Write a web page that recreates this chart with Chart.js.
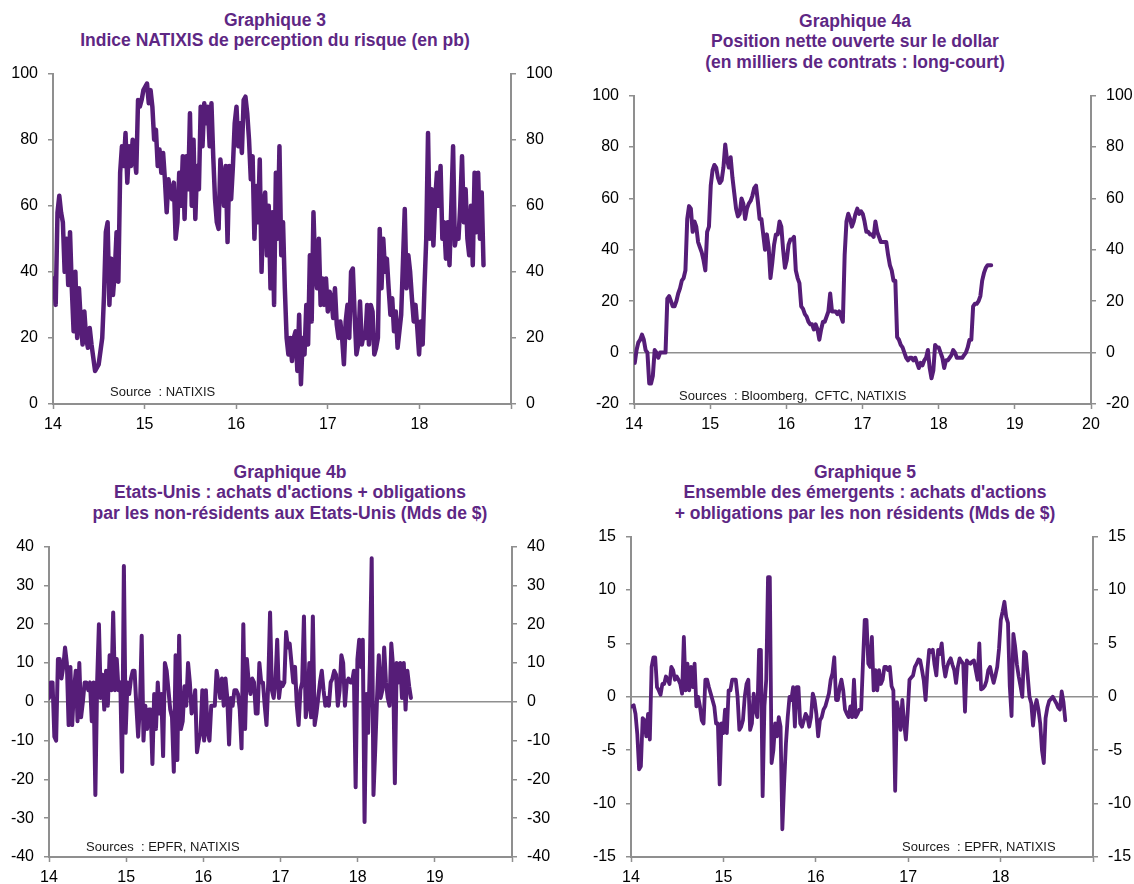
<!DOCTYPE html>
<html>
<head>
<meta charset="utf-8">
<script src="https://cdn.jsdelivr.net/npm/chart.js@4.4.1/dist/chart.umd.min.js"></script>
<style>
  body { margin: 0; background: #fff; width: 1134px; height: 884px; position: relative; overflow: hidden;
         font-family: "Liberation Sans", Arial, sans-serif; }
  canvas { position: absolute; }
  .title { position: absolute; width: 600px; text-align: center; font-weight: bold; font-size: 17.5px;
           line-height: 20.3px; color: #5e2784; white-space: nowrap; }
  .src { position: absolute; font-size: 13px; line-height: 13px; color: #1a1a1a; white-space: pre; }
</style>
</head>
<body>

<div class="title" style="left:-25px;top:10px">Graphique 3<br>Indice NATIXIS de perception du risque (en pb)</div>
<div class="title" style="left:555px;top:11px">Graphique 4a<br>Position nette ouverte sur le dollar<br>(en milliers de contrats : long-court)</div>
<div class="title" style="left:-10px;top:462px">Graphique 4b<br>Etats-Unis : achats d'actions + obligations<br>par les non-résidents aux Etats-Unis (Mds de $)</div>
<div class="title" style="left:565px;top:462px">Graphique 5<br>Ensemble des émergents : achats d'actions<br>+ obligations par les non résidents (Mds de $)</div>

<canvas id="c1" width="567" height="386" style="left:0;top:54px"></canvas>
<canvas id="c2" width="567" height="364" style="left:567px;top:76px"></canvas>
<canvas id="c3" width="567" height="357" style="left:0;top:527px"></canvas>
<canvas id="c4" width="567" height="367" style="left:567px;top:517px"></canvas>

<div class="src" style="left:110px;top:385px">Source  : NATIXIS</div>
<div class="src" style="left:679px;top:389px">Sources  : Bloomberg,  CFTC, NATIXIS</div>
<div class="src" style="left:86px;top:840px">Sources  : EPFR, NATIXIS</div>
<div class="src" style="left:902px;top:840px">Sources  : EPFR, NATIXIS</div>

<script>
// ---- data (weekly, years as 14 = 2014) ----
const riskFirst = 14.01, riskLast = 18.70;
const riskValues = [38,30,58,63,58,55,40,50,36,52,35,22,40,20,35,25,18,28,20,17,23,18,14,10,11,12,16,20,33,52,
  55,30,44,33,40,52,37,70,78,72,82,67,78,72,80,75,70,92,90,92,95,96,97,91,95,90,80,83,72,77,
  70,76,68,58,68,64,62,67,50,55,70,60,75,56,75,65,88,60,80,56,72,65,90,78,91,85,90,78,91,75,
  62,55,53,74,68,60,72,49,72,62,72,85,90,78,85,76,92,93,88,80,68,75,50,66,55,74,40,60,64,45,
  60,35,58,30,70,50,78,45,55,35,20,15,20,13,20,22,10,27,6,20,15,30,18,45,25,58,40,35,50,30,
  38,30,38,28,34,32,26,35,24,20,25,20,12,25,30,20,40,41,27,15,18,31,18,21,20,30,18,30,28,15,
  17,20,53,35,50,40,44,35,27,32,22,28,17,22,27,43,59,35,45,40,32,25,30,23,15,25,18,35,50,82,
  50,65,48,62,70,60,72,50,55,44,55,42,60,78,48,52,50,60,75,55,65,50,45,60,42,70,52,70,50,64,42];
const riskXLabels = [14, 15, 16, 17, 18];
const riskYTicks = [0, 20, 40, 60, 80, 100];

const dollarFirst = 14.01, dollarLast = 18.69;
const dollarValues = [-4,1,4,5,7,5,1,0,-12,-12,-9,1,0,-2,0,0,0,0,21,22,20,18,18,20,23,25,28,29,32,52,
  57,56,47,51,49,43,41,39,36,32,47,49,65,71,73,72,68,66,67,72,81,75,72,76,68,62,56,53,54,60,
  58,52,56,58,59,61,64,65,59,52,52,46,40,46,41,29,35,42,46,46,51,49,40,33,36,42,44,44,45,32,
  29,27,18,17,15,14,12,11,11,9,11,9,5,9,12,12,14,16,23,16,16,16,15,16,14,12,38,51,54,52,
  49,51,54,56,54,55,54,51,47,47,46,46,45,51,47,45,43,43,43,43,38,34,32,28,28,6,5,3,2,0,
  -2,-3,-2,-2,-3,-2,-4,-6,-4,-5,-3,-2,1,-6,-10,-7,3,2,2,0,-2,-6,-3,-3,-2,-1,1,0,-2,-2,
  -2,-2,-1,0,2,5,5,18,19,19,20,22,28,31,33,34,34,34];
const dollarXLabels = [14, 15, 16, 17, 18, 19, 20];
const dollarYTicks = [-20, 0, 20, 40, 60, 80, 100];

const usFirst = 14.00, usLast = 18.69;
const usValues = [1,5,5,-9,-10,11,11,6,9,14,10,-6,9,-6,3,8,-5,10,-4,0,5,5,3,5,-5,5,-24,5,20,1,
  7,-2,8,-1,12,3,23,3,11,3,5,-18,35,-8,5,2,6,8,8,-1,-9,-1,17,-10,-1,-7,-2,-2,-16,2,
  -7,5,-3,2,-14,10,8,3,-2,-4,-18,12,-15,17,-7,-5,4,-1,10,5,-3,-1,3,-13,-10,-8,3,-10,3,-8,
  -10,-1,-1,-1,8,5,1,6,-1,6,1,-11,1,-1,3,3,2,-2,-12,20,-7,11,5,2,6,5,-3,-3,10,5,
  5,-1,-6,5,23,3,1,5,16,1,5,4,5,18,14,15,10,5,9,-1,-6,3,5,22,-4,-1,10,-4,22,-6,
  -3,1,5,8,3,-1,1,-1,5,6,8,7,-1,3,12,10,-1,5,6,5,5,8,-22,11,16,9,16,-31,2,-8,
  10,37,-24,-12,1,12,1,3,14,5,1,-1,15,9,-21,10,5,10,1,10,-2,8,4,1];
const usXLabels = [14, 15, 16, 17, 18, 19];
const usYTicks = [-40, -30, -20, -10, 0, 10, 20, 30, 40];

const emFirst = 14.01, emLast = 18.70;
const emValues = [-0.9,-0.8,-1.6,-3.5,-6.8,-6.5,-2.0,-2.2,-3.7,-1.6,-4.0,2.8,3.7,3.7,0.9,0.6,0.2,1.2,1.2,1.9,
  1.6,1.2,2.8,2.5,1.6,1.9,1.6,1.2,0.3,5.6,0.6,3.1,0.6,2.8,0.9,3.1,-0.9,0,-0.9,-2.2,
  -2.5,1.6,1.6,0.9,0.3,-0.3,-0.9,-2.5,-2.5,-8.2,-2.5,-3.4,-1.2,-3.4,0.6,0.6,1.6,1.6,1.6,0,
  -3.1,-2.8,-2.2,0,1.2,1.6,-3.1,-2.5,0.3,-1.2,-1.9,4.4,4.4,-9.3,-0.9,1.6,11.2,11.2,-6.2,-5.0,
  -2.5,-3.7,-1.9,-2.8,-12.4,-8.1,-4.4,-1.9,0,-0.3,0.9,-2.8,0.9,0.9,-2.5,-2.8,-2.2,-1.6,-1.9,-2.8,
  -1.9,0.3,-0.3,-1.6,-3.7,-2.2,-1.9,-1.2,-0.9,-0.3,0.3,1.6,2.2,3.7,-0.3,-0.3,0.9,1.6,0.6,-1.2,
  -1.6,-1.9,-0.9,-1.9,1.6,-1.9,-1.6,-1.2,-1.2,3.1,7.2,7.2,3.1,2.8,5.6,0.6,2.5,0.6,2.5,1.2,
  1.6,2.8,2.8,2.5,2.8,1.0,0.6,-8.8,-0.5,-1.5,-3.1,-0.3,-2.5,-4.0,-1.5,1.6,1.8,2.0,2.8,3.1,
  3.5,3.4,2.5,1.5,-0.3,2.5,4.4,4.2,4.4,3.0,2.0,4.4,4.0,5.0,3.0,1.9,2.8,3.3,3.6,3.0,
  2.5,1.3,2.8,3.6,3.3,3.1,-1.4,3.4,3.2,3.1,3.3,3.4,2.5,1.6,5.0,0.7,0.8,1.0,1.5,2.5,
  2.8,2.0,1.3,2.0,2.8,4.5,7.2,8.0,8.9,7.5,6.9,1.0,-1.8,5.9,4.7,3.0,1.9,1.0,0,4.2,
  4.0,2.0,0,-0.6,-2.7,-1.0,-0.3,-1.2,-2.5,-5.0,-6.2,-2.0,-1.0,-0.4,-0.2,0,-0.3,-0.6,-1.0,-1.2,
  0.5,-0.5,-2.2];
const emXLabels = [14, 15, 16, 17, 18];
const emYTicks = [-15, -10, -5, 0, 5, 10, 15];

// ---- drawing ----
Chart.defaults.font.family = '"Liberation Sans", Arial, sans-serif';
Chart.defaults.font.size = 16;
Chart.defaults.color = '#000';
const axisGray = '#8f8f8f';
const lineColor = '#561d78';

function weekly(first, last, values) {
  const step = (last - first) / (values.length - 1);
  return values.map((v, i) => ({ x: first + i * step, y: v }));
}

function yAxis(ticksList, side, width, zeroLine) {
  return {
    type: 'linear', position: side,
    min: ticksList[0], max: ticksList[ticksList.length - 1],
    afterFit: s => { s.width = width; },
    afterBuildTicks: s => { s.ticks = ticksList.map(v => ({ value: v })); },
    ticks: { padding: 10, callback: v => String(v) },
    grid: {
      drawOnChartArea: side === 'left',
      color: c => (zeroLine && c.tick && c.tick.value === 0) ? axisGray : 'transparent',
      lineWidth: 1.5, tickColor: axisGray, tickWidth: 1.5, tickLength: 5
    },
    border: { display: true, color: axisGray, width: 2 }
  };
}

function makeChart(id, o) {
  new Chart(document.getElementById(id), {
    type: 'line',
    data: { datasets: [{ data: o.points, borderColor: lineColor, borderWidth: o.lw,
      pointRadius: 0, tension: 0, borderJoinStyle: 'round', borderCapStyle: 'round' }] },
    options: {
      responsive: false, animation: false, devicePixelRatio: 1,
      layout: { padding: 0 },
      plugins: { legend: { display: false }, tooltip: { enabled: false } },
      scales: {
        x: {
          type: 'linear', min: 14, max: o.xMax,
          afterFit: s => { s.height = o.h; },
          ticks: { stepSize: 1, autoSkip: false, maxRotation: 0, padding: 6,
                   callback: v => o.xLabels.includes(v) ? String(v) : '' },
          grid: { drawOnChartArea: false, tickColor: axisGray, tickWidth: 1.5, tickLength: 5 },
          border: { display: true, color: axisGray, width: 2 }
        },
        y: yAxis(o.yTicks, 'left', o.wl, o.zero),
        y2: yAxis(o.yTicks, 'right', o.wr, false)
      }
    }
  });
}

makeChart('c1', { points: weekly(riskFirst, riskLast, riskValues), xMax: 19, xLabels: riskXLabels,
  yTicks: riskYTicks, zero: false, wl: 53, wr: 56, h: 36, lw: 4.5 });
makeChart('c2', { points: weekly(dollarFirst, dollarLast, dollarValues), xMax: 20, xLabels: dollarXLabels,
  yTicks: dollarYTicks, zero: true, wl: 67, wr: 43, h: 36, lw: 4 });
makeChart('c3', { points: weekly(usFirst, usLast, usValues), xMax: 20, xLabels: usXLabels,
  yTicks: usYTicks, zero: true, wl: 49, wr: 55, h: 27, lw: 4 });
makeChart('c4', { points: weekly(emFirst, emLast, emValues), xMax: 19, xLabels: emXLabels,
  yTicks: emYTicks, zero: true, wl: 64, wr: 41, h: 27, lw: 3.8 });
</script>
</body>
</html>
